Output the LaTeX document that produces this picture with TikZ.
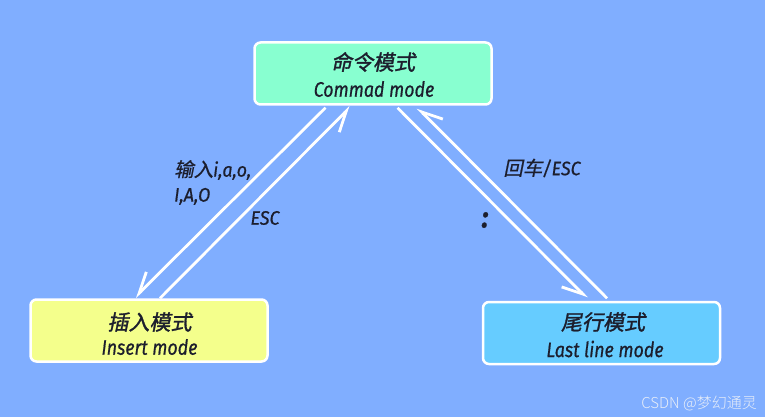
\documentclass[tikz,border=0pt]{standalone}
\usepackage{fontspec}
\usetikzlibrary{arrows.meta,calc}
\newfontfamily\cjk[FakeSlant=0.2,FakeBold=1.4]{Noto Sans CJK SC}
\newfontfamily\cjklab[FakeSlant=0.2,FakeBold=0.8]{Noto Sans CJK SC}
\newfontfamily\en[FakeStretch=0.85,FakeBold=0.6]{Fira Sans}
\newfontfamily\enlab[FakeStretch=0.92,FakeBold=0.6]{Fira Sans}
\newfontfamily\wm{Noto Sans CJK SC Light}
\definecolor{bg}{RGB}{128,174,255}
\definecolor{cmdfill}{RGB}{136,255,208}
\definecolor{insfill}{RGB}{244,255,140}
\definecolor{lastfill}{RGB}{102,204,255}
\definecolor{ink}{RGB}{28,30,45}
\definecolor{wmc}{RGB}{232,238,248}
\tikzset{
  box/.style={draw=white, line width=2.5pt, rounded corners=6pt,
    minimum width=237pt, minimum height=62pt, inner sep=0pt},
  title/.style={text=ink, inner sep=0pt, font=\cjk\fontsize{21}{23}\selectfont},
  sub/.style={text=ink, inner sep=0pt, font=\en\itshape\fontsize{21}{23}\selectfont},
  lab/.style={text=ink, inner sep=0pt, font=\enlab\itshape\fontsize{19.5}{25}\selectfont},
  conn/.style={draw=white, line width=2.8pt,
    -{Straight Barb[right,length=20pt,width=20pt]}}
}
\begin{document}
\begin{tikzpicture}[x=1pt,y=-1pt]
\fill[bg] (0,0) rectangle (765,417);
\useasboundingbox (0,0) rectangle (765,417);

\node[box, fill=cmdfill] (cmd) at (373,73.5) {};
\node[box, fill=insfill] (ins) at (149,330.5) {};
\node[box, fill=lastfill] (last) at (601.5,333) {};

\node[title] (cmdzh) at (373,62) {命令模式};
\node[sub] (cmden) at (374,89) {Commad mode};
\node[title] (inszh) at (149.5,322) {插入模式};
\node[sub] (insen) at (149.5,347) {Insert mode};
\node[title] (lastzh) at (603,322) {尾行模式};
\node[sub] (lasten) at (605,349) {Last line mode};

\draw[conn] ($(cmd.south)+(-47.5,2)$) -- ($(ins.north)+(-14,-1)$);
\draw[conn] ($(ins.north)+(11,0)$) -- ($(cmd.south)+(-22.5,1)$);
\draw[conn] ($(cmd.south)+(24.5,2)$) -- ($(last.north)+(-14.5,-2.5)$);
\draw[conn] ($(last.north)+(5.5,-2.5)$) -- ($(cmd.south)+(44.5,2)$);

\node[lab, anchor=west, align=left] (lab1) at (174,182.5) {{\cjklab 输入}i,a,o,\\I,A,O};
\node[lab] (lab2) at (265,218) {ESC};
\node[lab] (lab3) at (542,168) {{\cjklab 回车}/ESC};
\node[lab, font=\enlab\itshape\bfseries\fontsize{30}{32}\selectfont] (lab4) at (485,220) {:};

\node[text=wmc, inner sep=0pt, anchor=east, font=\wm\fontsize{15}{16}\selectfont] (wmark) at (757,403) {CSDN @梦幻通灵};
\end{tikzpicture}
\end{document}
